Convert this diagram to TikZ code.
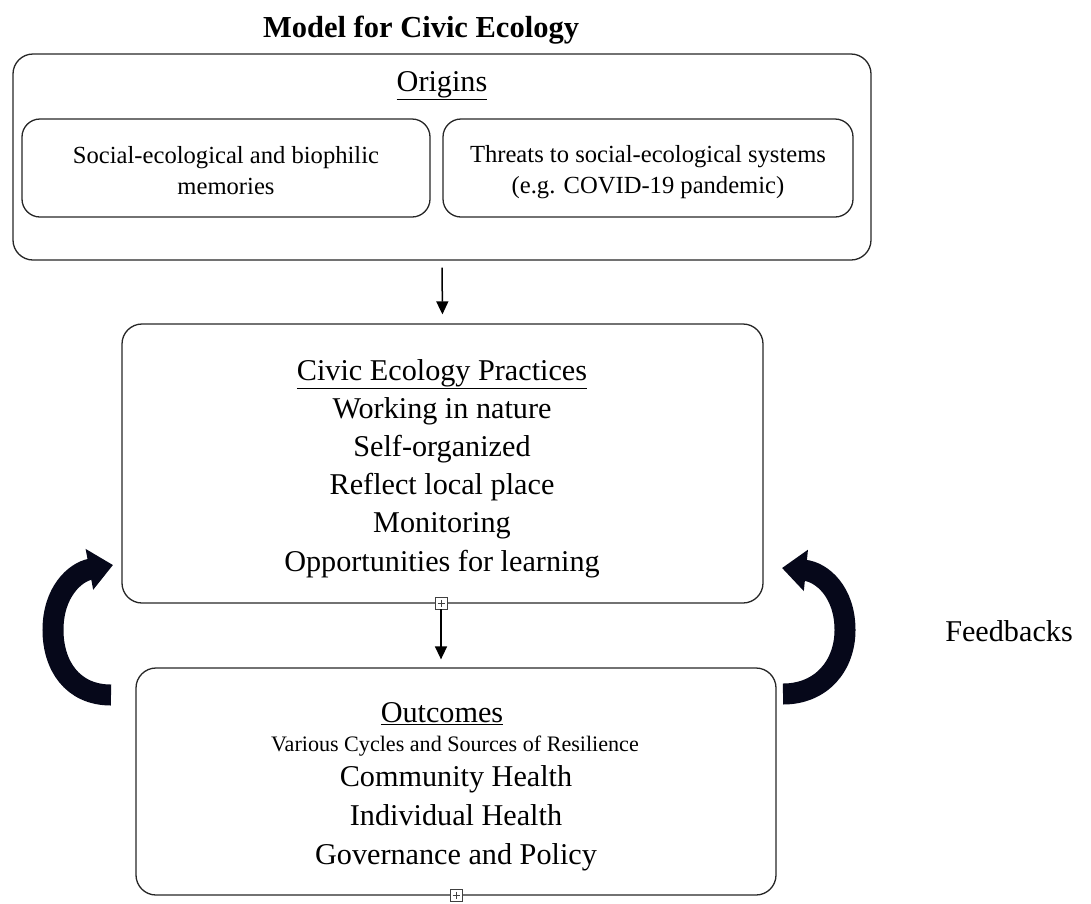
\documentclass[tikz,border=0pt]{standalone}
\usepackage{fontspec}
\setmainfont{Liberation Serif}
\usetikzlibrary{arrows.meta}
\definecolor{navy}{RGB}{6,8,26}
\tikzset{
  box/.style={draw=black!85, line width=1.3pt, rounded corners=#1, inner sep=0pt},
  box/.default=20pt,
  big/.style={font=\fontsize{30.2}{36}\selectfont, anchor=base, inner sep=0pt},
  mid/.style={font=\fontsize{24.6}{31}\selectfont, align=center, inner sep=0pt},
  small/.style={font=\fontsize{22.1}{26}\selectfont, anchor=base, inner sep=0pt},
  conn/.style={line width=1.5pt, -{Triangle[length=13pt,width=12pt]}},
  plusbox/.style={draw=black!75, line width=0.9pt, minimum size=12pt, inner sep=0pt,
    fill=white,
    path picture={\draw[line width=0.9pt] ([xshift=2.5pt]path picture bounding box.west) -- ([xshift=-2.5pt]path picture bounding box.east)
      ([yshift=-2.5pt]path picture bounding box.north) -- ([yshift=2.5pt]path picture bounding box.south);}},
  feedback/.style={draw=navy, line width=21pt, -{Triangle[length=24pt,width=40pt]}}
}
\begin{document}
\begin{tikzpicture}[x=1pt,y=-1pt]
\useasboundingbox (0,0) rectangle (1091,903);
% title
\node[font=\fontsize{30.5}{35}\selectfont\bfseries, anchor=base, inner sep=0pt] (title) at (421,37) {Model for Civic Ecology};
% origins
\node[box, minimum width=858pt, minimum height=206pt] (origins) at (442,157) {};
\node[big] (originsLabel) at (442,91) {\underline{Origins}};
\node[box=18pt, minimum width=408pt, minimum height=98pt] (memories) at (226,168) {};
\node[mid] (memoriesText) at (226,171) {Social-ecological and biophilic\\memories};
\node[box=18pt, minimum width=410pt, minimum height=98pt] (threats) at (648,168) {};
\node[mid] (threatsText) at (648,172) {Threats to social-ecological systems\\(e.g. COVID-19 pandemic)};
% civic ecology practices
\node[box, minimum width=641pt, minimum height=279pt] (civic) at (442.5,463.5) {};
\node[big] (civicTitle) at (442,380) {\underline{Civic Ecology Practices}};
\node[big] (civic1) at (442,418) {Working in nature};
\node[big] (civic2) at (442,456) {Self-organized};
\node[big] (civic3) at (442,494) {Reflect local place};
\node[big] (civic4) at (442,532) {Monitoring};
\node[big] (civic5) at (442,571) {Opportunities for learning};
\node[plusbox] (plus1) at (441,603) {};
% outcomes
\node[box, minimum width=640pt, minimum height=227pt] (outcomes) at (456,781.5) {};
\node[big] (outTitle) at (442,722) {\underline{Outcomes}};
\node[small] (outSub) at (455,751) {Various Cycles and Sources of Resilience};
\node[big] (out1) at (456,786) {Community Health};
\node[big] (out2) at (456,825) {Individual Health};
\node[big] (out3) at (456,864) {Governance and Policy};
\node[plusbox] (plus2) at (456,895) {};
% feedbacks label
\node[big] (feedbacks) at (1009,641) {Feedbacks};
% connectors
\draw[conn, shorten <=7pt, shorten >=9pt] (origins.south) -- (civic.north);
\draw[conn, shorten >=8pt] (plus1.south) -- (plus1.south |- outcomes.north);
% curved feedback arrows
\coordinate (lStart) at (111,695);
\coordinate (lTip) at (113,565);
\coordinate (rStart) at (783,694);
\coordinate (rTip) at (782,568);
\draw[feedback] (lStart) .. controls (72,695) and (53,665) .. (53,630)
  .. controls (53,592) and (75,572) .. (lTip);
\draw[feedback] (rStart) .. controls (822,694) and (845,665) .. (845,630)
  .. controls (845,592) and (822,572) .. (rTip);
\end{tikzpicture}
\end{document}
